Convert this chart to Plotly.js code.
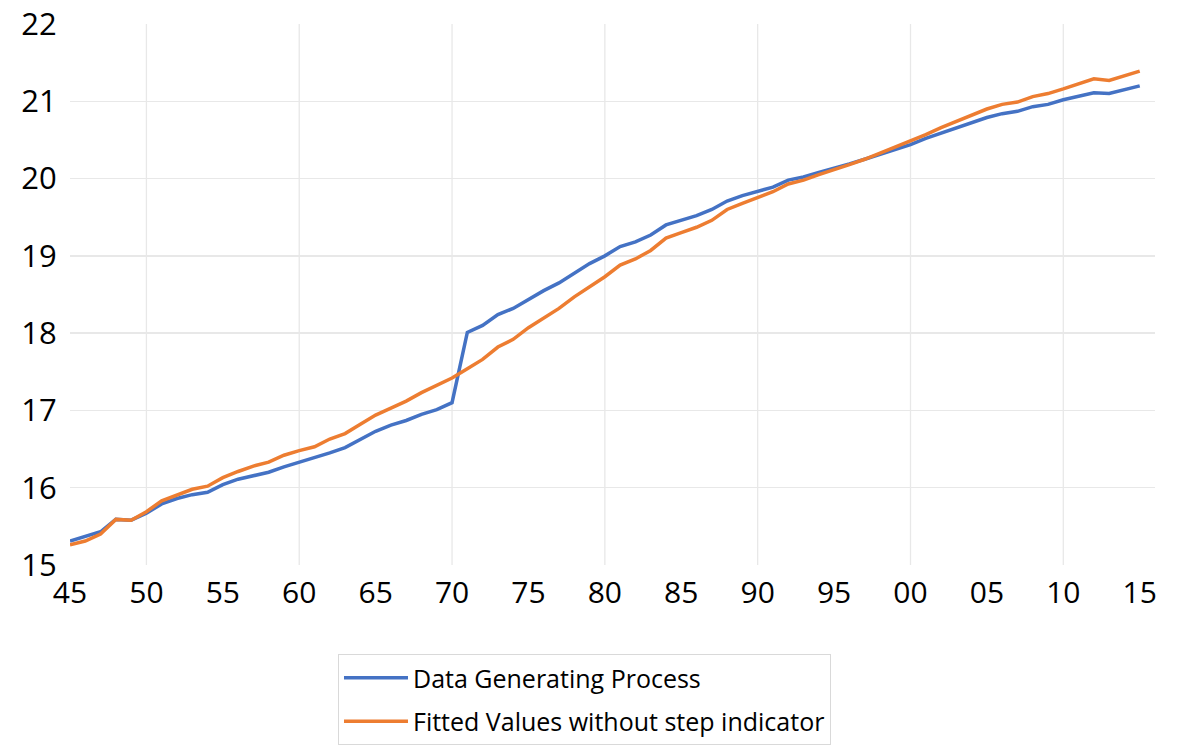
<!DOCTYPE html>
<html>
<head>
<meta charset="utf-8">
<script src="https://cdn.plot.ly/plotly-3.0.1.min.js"></script>
<style>html,body{margin:0;padding:0;background:#fff;}#chart{width:1181px;height:746px;}</style>
</head>
<body>
<div id="chart"></div>
<script>
const years = [];
for (let y = 1945; y <= 2015; y++) years.push(y);

const dgp = [
  15.31, 15.37, 15.43, 15.59, 15.58, 15.67, 15.79, 15.86, 15.91, 15.94,
  16.04, 16.11, 16.16, 16.20, 16.27, 16.33, 16.38, 16.45, 16.52, 16.63,
  16.73, 16.81, 16.87, 16.95, 17.01, 17.10, 18.01, 18.10, 18.24, 18.32,
  18.44, 18.55, 18.65, 18.78, 18.90, 19.00, 19.12, 19.18, 19.27, 19.40,
  19.46, 19.52, 19.60, 19.71, 19.78, 19.84, 19.89, 19.98, 20.02, 20.08,
  20.13, 20.19, 20.25, 20.31, 20.38, 20.44, 20.52, 20.59, 20.66, 20.73,
  20.79, 20.84, 20.87, 20.93, 20.96, 21.02, 21.06, 21.11, 21.10, 21.15,
  21.20
];

const fitted = [
  15.26, 15.31, 15.40, 15.59, 15.58, 15.69, 15.83, 15.91, 15.98, 16.02,
  16.13, 16.21, 16.28, 16.33, 16.42, 16.48, 16.53, 16.63, 16.70, 16.82,
  16.94, 17.03, 17.12, 17.23, 17.32, 17.42, 17.54, 17.66, 17.82, 17.92,
  18.07, 18.19, 18.32, 18.47, 18.60, 18.73, 18.88, 18.96, 19.07, 19.23,
  19.30, 19.37, 19.46, 19.60, 19.68, 19.76, 19.83, 19.93, 19.98, 20.05,
  20.11, 20.18, 20.25, 20.33, 20.40, 20.48, 20.57, 20.66, 20.74, 20.83,
  20.90, 20.96, 20.99, 21.06, 21.10, 21.16, 21.22, 21.29, 21.27, 21.33,
  21.39
];

const xTickVals = [1945,1950,1955,1960,1965,1970,1975,1980,1985,1990,1995,2000,2005,2010,2015];
const xTickText = ["45","50","55","60","65","70","75","80","85","90","95","00","05","10","15"];
const yTickVals = [15,16,17,18,19,20,21,22];

const seriesNames = ["Data Generating Process", "Fitted Values without step indicator"];

const traces = [
  {x: years, y: dgp, name: seriesNames[0], type: 'scatter', mode: 'lines',
   legendgroup: 'a', line: {color: '#4472C4', width: 3.5}},
  {x: years, y: fitted, name: seriesNames[1], type: 'scatter', mode: 'lines',
   legendgroup: 'b', line: {color: '#ED7D31', width: 3.5}}
];

const gridVals = [1950,1960,1970,1980,1990,2000,2010];

const shapes = gridVals.map(v => ({
  type: 'line', xref: 'x', yref: 'paper', x0: v, x1: v, y0: 0, y1: 1,
  line: {color: '#e8e8e8', width: 1.3}, layer: 'below'
}));

const layout = {
  width: 1181, height: 746,
  margin: {l: 70, r: 26, t: 24, b: 181, autoexpand: false},
  paper_bgcolor: '#ffffff', plot_bgcolor: '#ffffff',
  font: {family: '"Open Sans", "Liberation Sans", sans-serif', color: '#000000'},
  showlegend: true,
  xaxis: {
    range: [1945, 2016], tickvals: xTickVals, ticktext: xTickText,
    showgrid: false, zeroline: false, showline: false, automargin: false,
    ticks: 'outside', ticklen: 1, tickcolor: 'rgba(0,0,0,0)',
    tickfont: {size: 30, color: '#000'}
  },
  yaxis: {
    range: [15, 22], tickvals: yTickVals,
    showgrid: true, gridcolor: '#e8e8e8', gridwidth: 1.3,
    zeroline: false, showline: false, automargin: false,
    ticks: 'outside', ticklen: 6, tickcolor: 'rgba(0,0,0,0)',
    tickfont: {size: 31, color: '#000'}
  },
  shapes: shapes,
  legend: {
    x: 0.2470, y: -0.1646, xanchor: 'left', yanchor: 'top',
    bordercolor: '#d9d9d9', borderwidth: 1, bgcolor: '#ffffff',
    font: {size: 25, color: '#000'},
    traceorder: 'grouped', tracegroupgap: 8,
    itemwidth: 64
  }
};

Plotly.newPlot('chart', traces, layout, {displayModeBar: false, staticPlot: true});
</script>
</body>
</html>
